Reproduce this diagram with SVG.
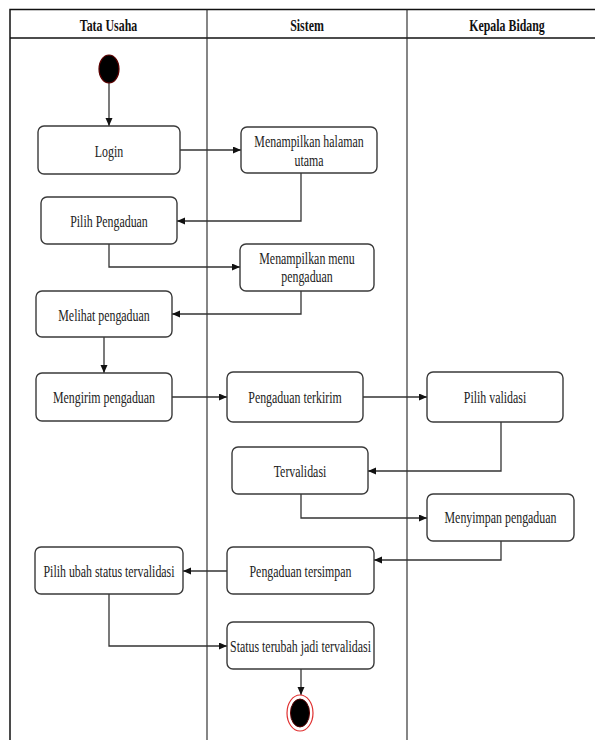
<svg xmlns="http://www.w3.org/2000/svg" width="595" height="740" viewBox="0 0 595 740">
<style>
.frame{fill:none;stroke:#111;stroke-width:1.5}
.lane{fill:none;stroke:#222;stroke-width:1.1}
.box{fill:#fff;stroke:#3a3a3a;stroke-width:1.4}
.t{font-family:"Liberation Serif","Times New Roman",serif;font-size:17px;fill:#222;text-anchor:middle}
.h{font-family:"Liberation Serif","Times New Roman",serif;font-size:17px;font-weight:bold;fill:#111;text-anchor:middle}
.c{fill:none;stroke:#333;stroke-width:1.3}
</style>
<defs>
<marker id="arr" markerUnits="userSpaceOnUse" markerWidth="9" markerHeight="8" refX="8" refY="3.5" orient="auto">
<path d="M0,0 L8,3.5 L0,7 z" fill="#111"/>
</marker>
</defs>
<rect x="0" y="0" width="595" height="740" fill="#fff"/>
<g id="swimlanes">
<path class="frame" d="M10,740 L10,9.5 L595,9.5"/>
<line class="frame" x1="10" y1="38" x2="595" y2="38"/>
<line class="lane" x1="207" y1="9.5" x2="207" y2="740"/>
<line class="lane" x1="407" y1="9.5" x2="407" y2="740"/>
<text class="h" transform="translate(108.5,31) scale(0.7,1)">Tata Usaha</text>
<text class="h" transform="translate(307,31) scale(0.7,1)">Sistem</text>
<text class="h" transform="translate(507,31) scale(0.7,1)">Kepala Bidang</text>
</g>
<g id="connectors">
<path class="c" marker-end="url(#arr)" d="M109,83 L109,126"/>
<path class="c" marker-end="url(#arr)" d="M180,150 L241,150"/>
<path class="c" marker-end="url(#arr)" d="M301,173 L301,221 L177,221"/>
<path class="c" marker-end="url(#arr)" d="M109,244 L109,267 L240,267"/>
<path class="c" marker-end="url(#arr)" d="M301,291 L301,314 L172,314"/>
<path class="c" marker-end="url(#arr)" d="M104,337 L104,373"/>
<path class="c" marker-end="url(#arr)" d="M172,397 L227,397"/>
<path class="c" marker-end="url(#arr)" d="M363,397 L427,397"/>
<path class="c" marker-end="url(#arr)" d="M501,422 L501,471 L368,471"/>
<path class="c" marker-end="url(#arr)" d="M301,494 L301,518 L427,518"/>
<path class="c" marker-end="url(#arr)" d="M501,541 L501,560 L374,560"/>
<path class="c" marker-end="url(#arr)" d="M227,571 L183,571"/>
<path class="c" marker-end="url(#arr)" d="M109,594 L109,646 L227,646"/>
<path class="c" marker-end="url(#arr)" d="M301,669 L301,695"/>
</g>
<g id="start">
<ellipse cx="109" cy="69" rx="10" ry="14" fill="#000" stroke="#5a0000" stroke-width="1.2"/>
</g>
<g id="login">
<rect class="box" x="38" y="126" width="142" height="48" rx="6"/>
<text class="t" transform="translate(109,156.5) scale(0.7,1)">Login</text>
</g>
<g id="halaman-utama">
<rect class="box" x="241" y="127" width="136" height="46" rx="6"/>
<text class="t" transform="translate(309,147) scale(0.7,1)">Menampilkan halaman</text>
<text class="t" transform="translate(309,166) scale(0.7,1)">utama</text>
</g>
<g id="pilih-pengaduan">
<rect class="box" x="41" y="197" width="136" height="47" rx="6"/>
<text class="t" transform="translate(109,226.5) scale(0.7,1)">Pilih Pengaduan</text>
</g>
<g id="menu-pengaduan">
<rect class="box" x="240" y="244" width="134" height="47" rx="6"/>
<text class="t" transform="translate(307,263.5) scale(0.7,1)">Menampilkan menu</text>
<text class="t" transform="translate(307,282) scale(0.7,1)">pengaduan</text>
</g>
<g id="melihat-pengaduan">
<rect class="box" x="36" y="291" width="136" height="46" rx="6"/>
<text class="t" transform="translate(104,320.5) scale(0.7,1)">Melihat pengaduan</text>
</g>
<g id="mengirim-pengaduan">
<rect class="box" x="36" y="373" width="136" height="48" rx="6"/>
<text class="t" transform="translate(104,403) scale(0.7,1)">Mengirim pengaduan</text>
</g>
<g id="pengaduan-terkirim">
<rect class="box" x="227" y="372" width="136" height="50" rx="6"/>
<text class="t" transform="translate(295,402.5) scale(0.7,1)">Pengaduan terkirim</text>
</g>
<g id="pilih-validasi">
<rect class="box" x="427" y="372" width="136" height="50" rx="6"/>
<text class="t" transform="translate(495,402.5) scale(0.7,1)">Pilih validasi</text>
</g>
<g id="tervalidasi">
<rect class="box" x="232" y="447" width="136" height="47" rx="6"/>
<text class="t" transform="translate(300,476.5) scale(0.7,1)">Tervalidasi</text>
</g>
<g id="menyimpan-pengaduan">
<rect class="box" x="427" y="494" width="147" height="47" rx="6"/>
<text class="t" transform="translate(500.5,522.5) scale(0.7,1)">Menyimpan pengaduan</text>
</g>
<g id="pengaduan-tersimpan">
<rect class="box" x="227" y="547" width="147" height="47" rx="6"/>
<text class="t" transform="translate(300.5,576.5) scale(0.7,1)">Pengaduan tersimpan</text>
</g>
<g id="pilih-ubah-status">
<rect class="box" x="35" y="547" width="148" height="47" rx="6"/>
<text class="t" transform="translate(109,576.5) scale(0.7,1)">Pilih ubah status tervalidasi</text>
</g>
<g id="status-terubah">
<rect class="box" x="227" y="622" width="147" height="47" rx="6"/>
<text class="t" transform="translate(300.5,651.5) scale(0.7,1)">Status terubah jadi tervalidasi</text>
</g>
<g id="end">
<ellipse cx="300" cy="713" rx="13" ry="18" fill="#fff" stroke="#e03030" stroke-width="1.2"/>
<ellipse cx="300" cy="713" rx="9.5" ry="14" fill="#000" stroke="#5a0000" stroke-width="1"/>
</g>
</svg>
